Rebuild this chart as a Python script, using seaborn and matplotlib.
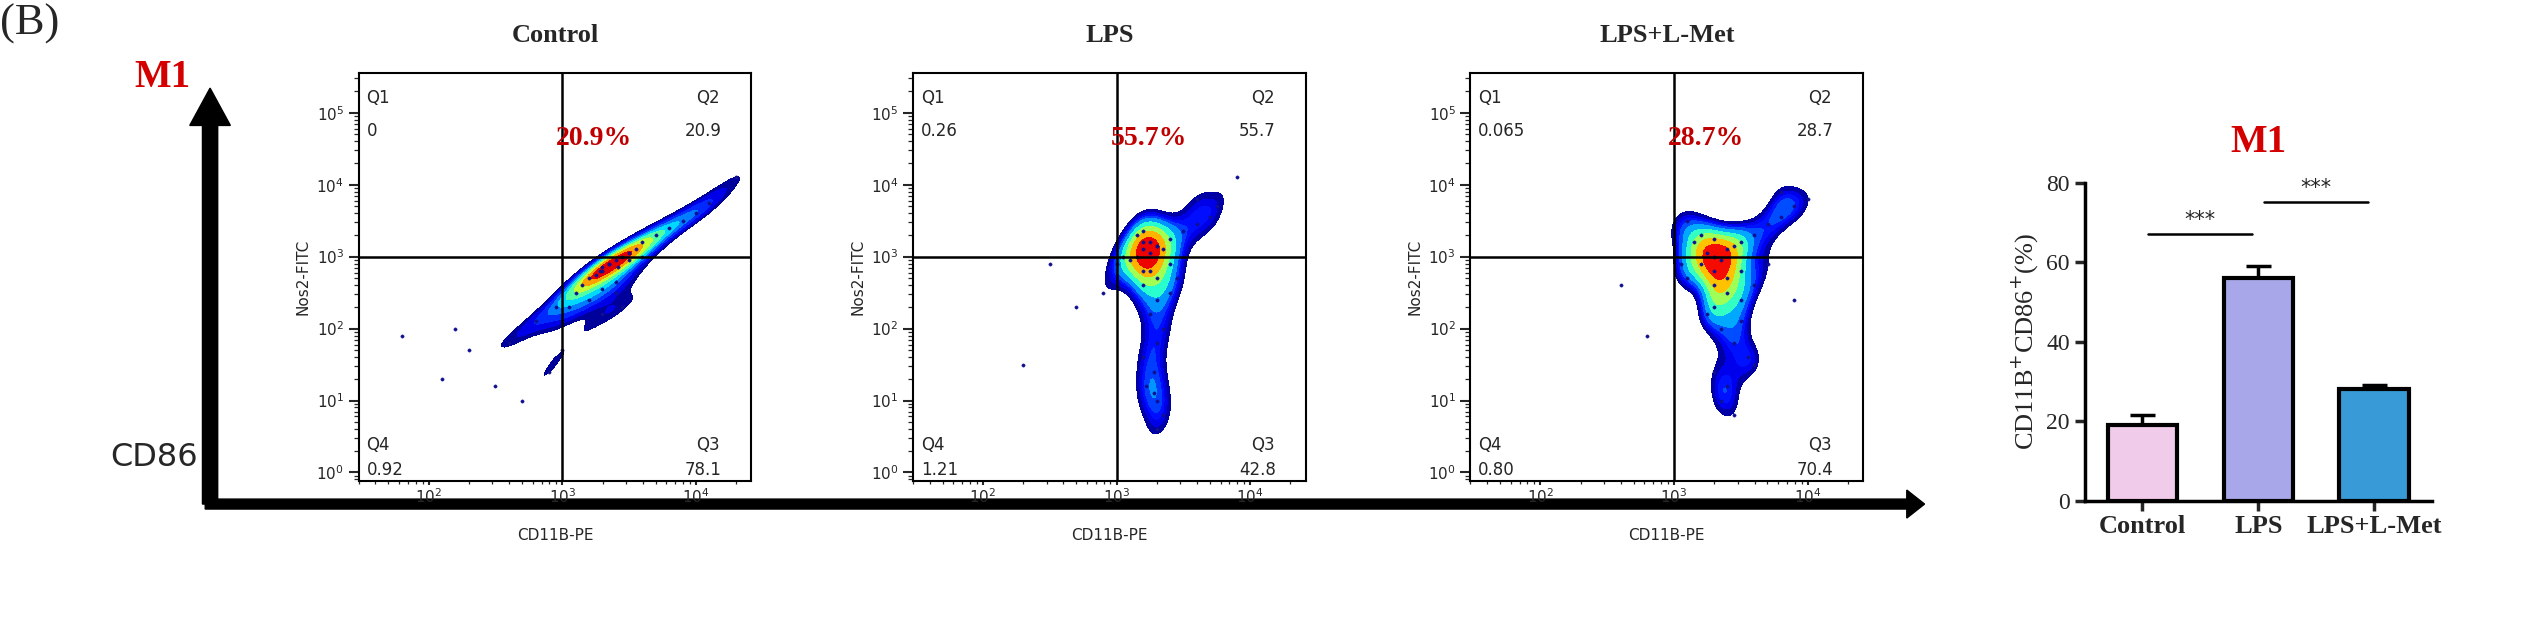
import matplotlib
matplotlib.use("Agg")
import matplotlib.pyplot as plt
import matplotlib.ticker as mticker
import seaborn as sns
import numpy as np
import pandas as pd

sns.set_theme(style="white")
plt.rcParams['font.family'] = ['DejaVu Sans']

panels = ["Control", "LPS", "LPS+L-Met"]
pct = ["20.9%", "55.7%", "28.7%"]
q1 = ["0", "0.26", "0.065"]
q2 = ["20.9", "55.7", "28.7"]
q3 = ["78.1", "42.8", "70.4"]
q4 = ["0.92", "1.21", "0.80"]
xtick_labels = ["$10^{2}$", "$10^{3}$", "$10^{4}$"]
ytick_labels = ["$10^{0}$", "$10^{1}$", "$10^{2}$", "$10^{3}$", "$10^{4}$", "$10^{5}$"]

# event positions (log10 CD11B-PE, log10 Nos2-FITC), read approximately
ctrl_x = [3.3,3.35,3.4,3.3,3.25,3.45,3.5,3.2,3.55,3.6,3.7,3.8,3.9,4.0,4.1,3.15,3.1,3.3,3.4,3.35,3.28,3.42,3.5,3.6,3.05,3.0,3.2,3.3,3.4,3.45,
          2.3,2.6,2.8,2.9,2.5,2.7,2.2,3.0,2.95,1.8,2.1,4.3]
ctrl_y = [2.85,2.9,2.95,2.8,2.75,3.0,3.05,2.7,3.1,3.2,3.3,3.4,3.5,3.6,3.75,2.6,2.5,2.55,2.65,2.9,2.8,2.85,2.95,3.0,2.3,2.1,2.4,2.2,2.5,2.3,
          1.7,1.8,2.1,1.4,1.2,1.0,2.0,1.7,2.3,1.9,1.3,4.1]
lps_x = [3.2,3.25,3.3,3.15,3.35,3.2,3.1,3.4,3.5,3.6,3.7,3.75,3.25,3.3,3.2,3.3,3.25,3.35,3.3,3.2,3.28,3.22,3.3,3.4,3.05,3.0,3.15,3.2,3.25,3.3,
         2.9,2.5,2.7,3.6,3.9,2.3,3.3,3.35,3.28,3.2,3.4,3.45]
lps_y = [3.1,3.05,3.15,3.0,3.1,3.2,2.95,3.25,3.35,3.45,3.55,3.7,2.8,2.7,2.6,2.4,2.2,2.0,1.8,1.6,1.4,1.2,1.0,2.5,3.0,2.9,3.3,3.35,3.2,3.15,
         2.5,2.9,2.3,3.8,4.1,1.5,0.6,0.8,1.1,2.8,2.9,2.7]
met_x = [3.3,3.35,3.25,3.4,3.3,3.2,3.45,3.5,3.6,3.7,3.8,3.9,3.1,3.05,3.15,3.3,3.4,3.5,3.25,3.35,3.45,3.55,3.3,3.4,3.6,3.7,3.2,3.3,3.4,3.5,
         3.0,3.1,3.8,4.0,3.9,2.6,2.8,3.35,3.45,3.3,3.5,3.6]
met_y = [3.0,2.95,3.05,3.1,2.8,2.9,3.15,3.2,3.3,3.45,3.55,3.7,2.7,2.9,3.2,2.6,2.5,2.4,2.2,2.0,1.8,1.6,1.4,1.2,2.6,2.9,3.3,3.25,2.7,2.8,
         3.4,3.5,3.9,3.8,2.4,2.6,1.9,1.0,0.8,2.3,2.1,1.5]
events = [(ctrl_x, ctrl_y), (lps_x, lps_y), (met_x, met_y)]

groups = ["Control", "LPS", "LPS+L-Met"]
means = [19.0, 56.0, 28.0]
sems = [2.5, 3.0, 1.0]
bar_colors = ["#F7C6EE", "#9C9CF4", "#1DA0F2"]

W, H = 25.37, 6.22
fig = plt.figure(figsize=(W, H), dpi=100)
sx, sy = 2537/1570, 622/385
def box(x0, y0, x1, y1):
    return [x0*sx/2537, 1-y1*sy/622, (x1-x0)*sx/2537, (y1-y0)*sy/622]

serif = "Liberation Serif"
fig.text(0, 1-2*sy/622, "(B)", fontsize=32, family=serif, va="top")
fig.text(83*sx/2537, 1-48*sy/622, "M1", fontsize=28, family=serif, fontweight="bold", color="#D40000", va="center")
fig.text(68*sx/2537, 1-283*sy/622, "CD86", fontsize=23, va="center")
fig.add_artist(matplotlib.patches.FancyArrow(130*sx/2537, 1-312*sy/622, 0, (312-60)*sy/622*0.93,
               width=0.006, head_width=0.016, head_length=0.06, color="black", transform=fig.transFigure,
               length_includes_head=False, zorder=-1))
fig.add_artist(matplotlib.patches.FancyArrow(127*sx/2537, 1-312*sy/622, (1180-127)*sx/2537, 0,
               width=0.016, head_width=0.045, head_length=0.007, color="black", transform=fig.transFigure, zorder=-1))

jet = plt.get_cmap("jet")
xs = [222, 565, 910]
for i in range(3):
    ax = fig.add_axes(box(xs[i], 45, xs[i]+243, 298))
    ax.patch.set_alpha(0)
    ex, ey = events[i]
    df = pd.DataFrame({"x": 10**np.array(ex), "y": 10**np.array(ey)})
    sns.kdeplot(data=df, x="x", y="y", fill=True, cmap=jet, levels=10, thresh=0.3,
                log_scale=True, bw_adjust=0.6, ax=ax)
    sns.scatterplot(data=df, x="x", y="y", s=6, color="#101090", edgecolor=None, ax=ax)
    ax.set_xscale("log"); ax.set_yscale("log")
    ax.set_xlim(30, 2.6e4); ax.set_ylim(0.75, 3.6e5)
    ax.axhline(1000, color="black", lw=1.8); ax.axvline(1000, color="black", lw=1.8)
    for s in ax.spines.values():
        s.set_visible(True); s.set_color("black"); s.set_linewidth(1.5)
    ax.xaxis.set_minor_locator(mticker.LogLocator(base=10, subs=np.arange(2, 10)))
    ax.yaxis.set_minor_locator(mticker.LogLocator(base=10, subs=np.arange(2, 10)))
    ax.xaxis.set_minor_formatter(mticker.NullFormatter())
    ax.yaxis.set_minor_formatter(mticker.NullFormatter())
    ax.set_xticks([1e2, 1e3, 1e4], xtick_labels)
    ax.set_yticks([1e0, 1e1, 1e2, 1e3, 1e4, 1e5], ytick_labels)
    ax.tick_params(axis="both", which="major", length=7, width=1.5, labelsize=11, left=True, bottom=True, direction="out")
    ax.tick_params(axis="x", which="major", length=3, pad=1)
    ax.tick_params(axis="both", which="minor", length=3.5, width=0.9, left=True, bottom=True)
    ax.tick_params(axis="x", which="minor", length=2)
    ax.set_xlabel("CD11B-PE", fontsize=11, labelpad=16); ax.set_ylabel("Nos2-FITC", fontsize=11)
    ax.set_title(panels[i], fontsize=19, family=serif, fontweight="bold", pad=22)
    t = ax.transAxes
    fs = 12
    ax.text(0.02, 0.96, "Q1", transform=t, fontsize=fs, va="top")
    ax.text(0.02, 0.88, q1[i], transform=t, fontsize=fs, va="top")
    ax.text(0.86, 0.96, "Q2", transform=t, fontsize=fs, va="top")
    ax.text(0.83, 0.88, q2[i], transform=t, fontsize=fs, va="top")
    ax.text(0.02, 0.11, "Q4", transform=t, fontsize=fs, va="top")
    ax.text(0.02, 0.05, q4[i], transform=t, fontsize=fs, va="top")
    ax.text(0.86, 0.11, "Q3", transform=t, fontsize=fs, va="top")
    ax.text(0.83, 0.05, q3[i], transform=t, fontsize=fs, va="top")
    ax.text(0.6, 0.84, pct[i], transform=t, fontsize=20, family=serif, fontweight="bold", color="#C00000", va="center", ha="center")

bx = fig.add_axes(box(1290, 113, 1505, 310))
bdf = pd.DataFrame({"g": groups, "v": means})
bx.errorbar(range(3), means, yerr=sems, fmt="none", ecolor="black", capsize=9, elinewidth=2.5, capthick=2.5, zorder=1)
sns.barplot(data=bdf, x="g", y="v", hue="g", palette=bar_colors, width=0.6, edgecolor="black", linewidth=3, legend=False, ax=bx, zorder=2)
bx.set_ylim(0, 80); bx.set_yticks([0, 20, 40, 60, 80])
bx.set_xlim(-0.5, 2.5)
sns.despine(ax=bx)
for s in ["left", "bottom"]:
    bx.spines[s].set_linewidth(2.5); bx.spines[s].set_color("black")
bx.tick_params(axis="both", length=7, width=2.5, left=True, bottom=True, labelsize=17)
for lab in bx.get_xticklabels() + bx.get_yticklabels():
    lab.set_family(serif)
for lab in bx.get_xticklabels():
    lab.set_fontweight("bold"); lab.set_fontsize(19)
bx.set_xlabel("")
bx.set_ylabel("CD11B$^{+}$CD86$^{+}$(%)", fontsize=19, family=serif)
bx.set_title("M1", fontsize=28, family=serif, fontweight="bold", color="#D40000", pad=22)
bx.plot([0.05, 0.95], [67, 67], color="black", lw=1.8)
bx.text(0.5, 69, "***", ha="center", fontsize=15)
bx.plot([1.05, 1.95], [75, 75], color="black", lw=1.8)
bx.text(1.5, 77, "***", ha="center", fontsize=15)

fig.savefig("out.png", dpi=100)
